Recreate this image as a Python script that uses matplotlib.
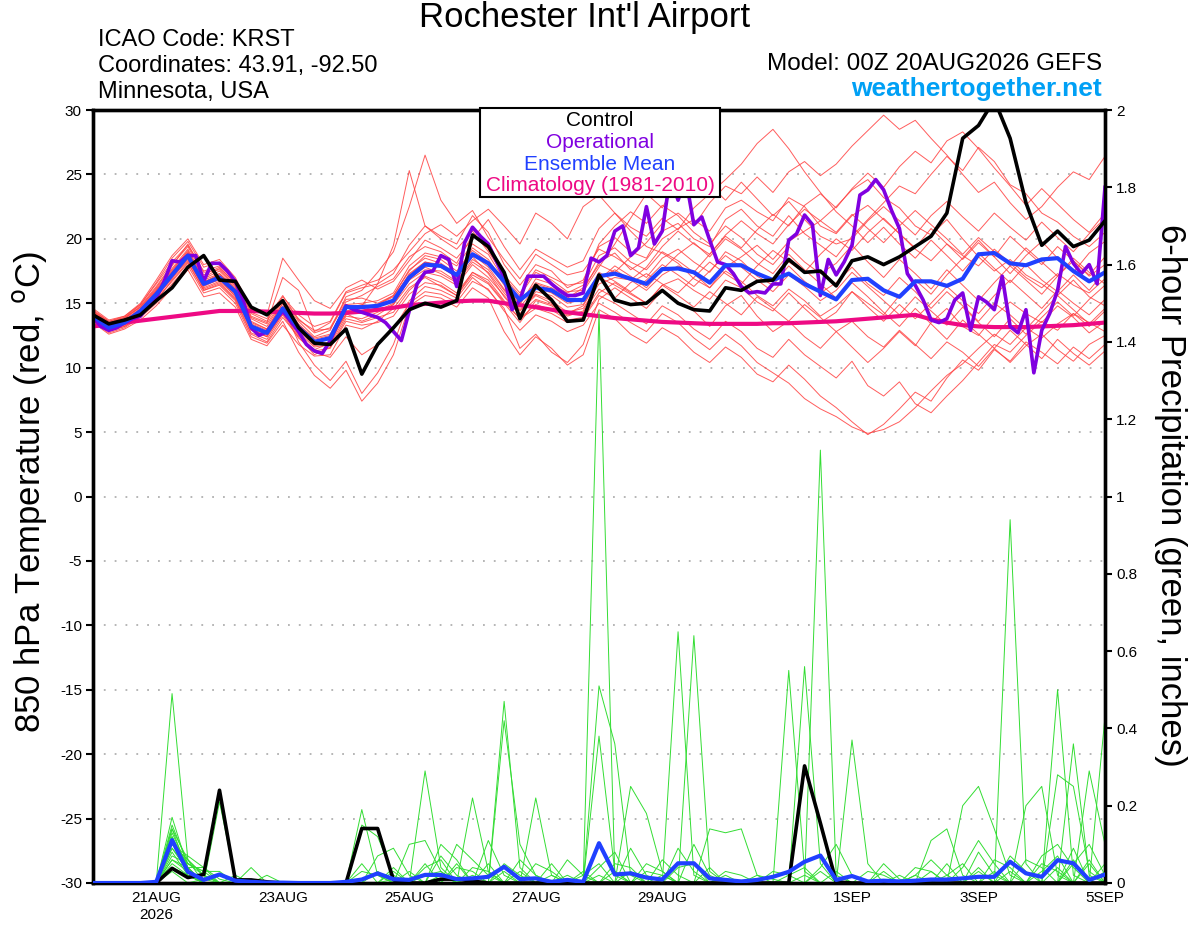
import numpy as np
import pandas as pd
import matplotlib
matplotlib.use('Agg')
import matplotlib.pyplot as plt
from matplotlib.patches import Rectangle

plt.rcParams['font.family'] = ['Liberation Sans', 'DejaVu Sans']
plt.rcParams['axes.unicode_minus'] = False

# 6-hourly GEFS steps (00Z 20AUG2026 to 00Z 05SEP2026), operational is 3-hourly
times6 = pd.date_range('2026-08-20 00:00', periods=65, freq='6h')
times3 = pd.date_range('2026-08-20 00:00', periods=129, freq='3h')

tick_dates = pd.to_datetime(['2026-08-21', '2026-08-23', '2026-08-25', '2026-08-27',
                             '2026-08-29', '2026-09-01', '2026-09-03', '2026-09-05'])
tick_labels = ['21AUG\n2026', '23AUG', '25AUG', '27AUG', '29AUG', '1SEP', '3SEP', '5SEP']

# 850 hPa temperature (C)
control_t = [14.1, 13.4, 13.7, 14.1, 15.2, 16.2, 17.8, 18.7, 16.8, 16.7, 14.7, 14.1, 15.2,
             13.1, 11.9, 11.8, 13.0, 9.5, 11.8, 13.1, 14.5, 15.0, 14.7, 15.2, 20.3, 19.4, 17.4,
             13.8, 16.4, 15.25, 13.6, 13.7, 17.2, 15.25, 14.9, 15.0, 16.0, 15.0, 14.5, 14.4,
             16.2, 16.0, 16.7, 16.8, 18.4, 17.4, 17.5, 16.35, 18.3, 18.6, 18.0, 18.6, 19.4,
             20.2, 22.0, 27.8, 28.8, 30.8, 27.8, 22.8, 19.5, 20.6, 19.4, 19.9, 21.4]
mean_t = [14.0, 13.1, 13.5, 14.4, 15.7, 17.2, 18.7, 16.5, 17.0, 15.9, 13.2, 12.7, 14.6,
          13.1, 12.0, 12.3, 14.7, 14.7, 14.8, 15.2, 17.0, 18.0, 17.9, 17.2, 18.8, 18.1, 16.7,
          15.25, 16.2, 16.0, 15.25, 15.25, 17.1, 17.3, 16.9, 16.5, 17.65, 17.7, 17.4, 16.6,
          17.95, 17.95, 17.3, 16.8, 17.3, 16.5, 15.9, 15.3, 16.8, 16.9, 16.0, 15.5, 16.7,
          16.7, 16.35, 16.9, 18.8, 18.9, 18.1, 17.95, 18.4, 18.5, 17.5, 16.7, 17.4]
clim_t = [13.2, 13.35, 13.5, 13.65, 13.8, 13.95, 14.1, 14.25, 14.4, 14.4, 14.4, 14.35, 14.3,
          14.25, 14.2, 14.2, 14.25, 14.35, 14.5, 14.65, 14.85, 14.95, 15.05, 15.15, 15.2, 15.2,
          15.0, 14.85, 14.7, 14.5, 14.3, 14.15, 14.0, 13.85, 13.75, 13.65, 13.55, 13.5, 13.45,
          13.4, 13.4, 13.4, 13.4, 13.45, 13.45, 13.5, 13.55, 13.6, 13.7, 13.8, 13.9, 14.0, 14.1,
          13.75, 13.5, 13.3, 13.2, 13.15, 13.15, 13.15, 13.2, 13.25, 13.3, 13.4, 13.5]
oper_t = [13.9, 13.2, 12.9, 13.1, 13.5, 13.8, 14.0, 14.8, 15.4, 16.7, 18.3, 18.2, 18.7, 18.7,
          16.7, 18.1, 18.1, 17.5, 16.7, 15.2, 13.1, 12.5, 12.8, 13.6, 14.4, 13.6, 12.8, 11.8,
          11.3, 11.1, 12.1, 13.5, 14.8, 14.5, 14.3, 14.1, 13.9, 13.5, 12.8, 12.1, 14.4, 16.5,
          17.4, 17.5, 18.7, 18.4, 16.3, 19.7, 20.9, 20.2, 19.6, 18.3, 17.0,
          14.5, 15.25, 17.1, 17.1, 17.1, 16.5, 16.0, 15.6, 15.6, 15.8, 18.5, 18.2, 18.7, 20.6,
          21.0, 18.7, 19.3, 22.5, 19.6, 20.6, 24.8, 23.0, 24.6, 21.1, 21.7, 19.9, 18.2, 18.0,
          17.3, 16.3, 15.8, 15.9, 15.8, 16.5, 16.5, 19.9, 20.4, 21.85, 21.1, 15.6, 18.4, 17.2,
          18.2, 19.5, 23.4, 23.8, 24.6, 23.8, 22.2, 20.8, 17.3, 16.4, 15.25, 13.7, 13.5, 13.8,
          15.25, 15.8, 12.9, 15.5, 15.1, 14.5, 17.1, 13.2, 12.7, 14.5, 9.6, 12.9, 14.2, 16.0,
          19.4, 18.1, 17.3, 18.0, 16.5, 24.0]

# ensemble members, 850 hPa temperature
t_mem01 = [14.3, 13.4, 13.8, 14.8, 16.3, 18.0, 19.4, 17.2, 17.8, 16.5, 14.0, 13.5, 17.0,
           16.0, 12.8, 13.5, 15.8, 16.2, 16.5, 17.3, 19.5, 21.0, 20.2, 19.6, 21.8, 20.5, 18.0, 16.4, 18.0, 17.5, 16.2,
           16.8, 19.4, 20.1, 19.0, 18.5, 20.6, 21.2, 20.0, 19.4, 21.5, 22.3, 21.0, 20.2, 21.8, 20.4, 19.5, 18.6,
           20.2, 21.5, 22.8, 24.1, 23.5, 25.0, 26.4, 25.3, 27.1, 26.0, 24.2, 23.5, 22.0, 21.3, 20.2, 19.4, 20.5]
t_mem02 = [13.7, 12.8, 13.2, 14.0, 15.2, 16.8, 18.2, 16.0, 16.4, 15.2, 12.6, 12.0, 13.9,
           12.4, 11.0, 11.6, 13.8, 13.5, 13.9, 14.3, 16.0, 17.1, 16.6, 15.8, 17.4, 16.8, 15.2, 13.8, 14.6, 14.2, 13.5,
           13.8, 15.6, 15.0, 14.2, 13.4, 14.8, 14.1, 13.0, 12.2, 13.6, 12.8, 11.5, 10.8, 12.2, 11.0, 10.1, 9.2,
           10.5, 8.6, 7.8, 8.9, 7.2, 6.5, 7.8, 9.0, 10.4, 11.8, 11.2, 12.5, 13.6, 12.9, 14.2, 13.5, 12.8]
t_mem03 = [14.5, 13.6, 13.9, 14.9, 16.6, 18.5, 19.8, 17.8, 18.2, 16.8, 14.3, 13.8, 15.6,
           13.7, 12.9, 13.0, 15.1, 15.6, 16.3, 16.9, 18.6, 19.4, 19.0, 18.1, 20.3, 19.2, 17.0, 15.6, 17.4, 16.8, 15.9,
           16.0, 18.2, 18.9, 17.6, 18.4, 20.0, 20.8, 21.5, 20.6, 22.4, 23.0, 22.1, 21.4, 23.2, 22.5, 21.0, 20.4,
           21.8, 22.6, 21.5, 20.4, 19.2, 18.3, 19.6, 18.7, 17.9, 19.2, 18.1, 17.0, 16.2, 17.3, 16.4, 15.8, 16.9]
t_mem04 = [13.9, 13.0, 13.4, 14.2, 15.5, 16.9, 18.5, 16.1, 16.6, 15.4, 12.9, 12.4, 14.2,
           12.5, 11.4, 11.9, 14.4, 14.2, 14.4, 15.0, 16.8, 17.6, 17.5, 16.7, 18.4, 17.6, 16.0, 14.5, 15.7, 15.2, 14.3,
           14.6, 16.5, 17.0, 16.8, 16.0, 17.2, 17.9, 17.3, 16.2, 17.8, 18.6, 19.5, 18.4, 19.8, 20.6, 21.4, 22.5,
           23.8, 24.6, 23.2, 22.4, 21.0, 20.3, 21.5, 20.0, 18.6, 17.5, 18.4, 17.2, 16.5, 15.6, 16.8, 15.5, 14.8]
t_mem05 = [14.1, 13.2, 13.6, 14.5, 15.9, 17.4, 18.9, 16.7, 17.1, 16.0, 13.3, 12.8, 14.7,
           12.0, 10.2, 9.0, 10.5, 8.0, 9.6, 11.8, 15.2, 16.3, 16.0, 15.4, 17.0, 16.0, 14.6, 11.5, 12.6, 11.2, 10.4,
           11.8, 15.3, 16.2, 15.4, 14.6, 16.0, 15.1, 14.4, 13.2, 14.8, 15.6, 14.0, 12.8, 13.6, 12.4, 11.5, 12.8,
           11.6, 10.4, 11.5, 12.8, 11.7, 13.5, 14.6, 13.2, 12.5, 14.0, 15.1, 14.2, 13.5, 14.8, 13.9, 12.7, 13.6]
t_mem06 = [14.2, 13.3, 13.7, 14.6, 16.0, 17.6, 19.0, 16.9, 17.5, 16.3, 13.6, 13.0, 15.0,
           13.4, 12.2, 12.5, 14.9, 15.0, 15.2, 15.8, 17.9, 18.9, 18.6, 17.9, 19.6, 18.8, 16.8, 15.2, 16.5, 16.1, 15.4,
           16.2, 18.0, 17.4, 18.6, 19.7, 21.2, 22.0, 21.0, 22.8, 24.1, 23.5, 24.8, 23.6, 25.2, 26.0, 24.9, 25.8,
           27.2, 28.4, 29.6, 28.5, 29.2, 27.8, 26.5, 25.0, 23.6, 24.4, 22.8, 21.5, 22.5, 24.0, 25.2, 24.6, 26.4]
t_mem07 = [13.8, 12.9, 13.3, 14.1, 15.4, 17.0, 18.3, 16.3, 16.9, 15.5, 13.0, 12.5, 14.5,
           13.0, 12.0, 12.4, 14.6, 14.9, 14.7, 15.3, 17.3, 18.2, 17.8, 17.0, 18.6, 17.3, 15.5, 14.1, 15.9, 15.6, 14.7,
           14.9, 17.0, 16.4, 15.7, 15.0, 16.4, 16.9, 16.0, 15.3, 16.8, 16.2, 15.1, 14.4, 15.8, 14.6, 13.5, 14.3,
           15.9, 15.0, 14.1, 15.6, 16.8, 15.7, 17.2, 18.5, 19.9, 18.6, 20.2, 19.1, 18.0, 19.4, 18.3, 17.1, 18.0]
t_mem08 = [14.4, 13.5, 13.9, 14.7, 16.2, 17.9, 19.6, 17.4, 17.6, 16.4, 13.8, 13.2, 15.2,
           13.6, 12.4, 12.9, 15.5, 16.0, 17.4, 19.0, 22.5, 26.5, 23.0, 21.2, 22.2, 20.1, 18.4, 16.9, 18.8, 18.0, 17.2,
           17.5, 19.2, 18.6, 17.8, 17.0, 18.5, 19.2, 18.2, 17.4, 19.0, 18.3, 17.1, 16.4, 17.9, 16.7, 15.8, 16.6,
           17.8, 16.5, 15.6, 17.0, 15.9, 14.6, 15.9, 14.8, 13.6, 15.0, 14.1, 13.0, 14.3, 15.6, 14.5, 13.4, 14.6]
t_mem09 = [14.0, 13.1, 13.5, 14.3, 15.6, 17.3, 18.8, 16.6, 17.3, 16.1, 13.4, 12.9, 14.8,
           13.2, 12.1, 12.3, 14.1, 14.8, 16.5, 19.5, 25.3, 21.0, 20.0, 19.2, 20.6, 19.0, 17.2, 15.8, 17.6, 17.0, 16.4,
           16.6, 19.6, 21.0, 22.1, 21.2, 22.6, 21.8, 20.5, 19.6, 21.0, 20.1, 18.8, 18.0, 19.4, 18.2, 17.3, 18.1,
           19.5, 18.2, 17.0, 18.4, 17.3, 16.1, 17.6, 16.4, 15.2, 16.6, 17.9, 16.8, 15.7, 17.1, 18.3, 17.2, 18.6]
t_mem10 = [13.6, 12.7, 13.1, 13.9, 15.0, 16.5, 17.9, 15.8, 16.2, 15.0, 12.4, 11.9, 13.6,
           11.2, 9.4, 8.4, 9.8, 7.4, 8.8, 11.0, 14.8, 15.6, 15.4, 14.7, 16.2, 15.4, 12.8, 11.0, 12.4, 11.5, 10.2,
           11.0, 14.5, 13.8, 12.6, 11.9, 13.1, 12.4, 11.2, 10.4, 11.6, 10.8, 9.5, 8.9, 10.2, 9.1, 7.8, 6.9,
           5.8, 4.8, 5.6, 6.8, 8.1, 7.4, 9.2, 10.6, 9.8, 11.4, 10.5, 12.0, 11.2, 10.3, 11.6, 10.7, 11.8]
t_mem11 = [14.6, 13.7, 14.0, 15.0, 16.8, 18.7, 20.0, 18.0, 18.4, 17.0, 14.6, 14.1, 18.5,
           16.8, 15.2, 14.6, 16.2, 16.8, 16.1, 16.7, 18.3, 19.9, 19.3, 18.5, 20.0, 21.5, 19.4, 17.6, 19.2, 18.5, 17.8,
           18.3, 20.8, 22.0, 20.9, 20.2, 21.6, 20.7, 22.4, 23.5, 24.6, 25.8, 27.4, 28.5, 27.0, 25.2, 23.6, 22.1,
           21.0, 19.7, 20.9, 19.6, 18.5, 19.9, 18.7, 17.5, 18.9, 17.7, 16.6, 18.0, 16.8, 15.9, 17.2, 16.0, 17.5]
t_mem12 = [13.5, 12.6, 13.0, 13.7, 14.8, 16.2, 17.6, 15.5, 15.8, 14.7, 12.2, 11.7, 13.3,
           11.8, 10.9, 11.0, 13.3, 13.0, 13.6, 14.6, 16.2, 17.0, 16.3, 15.6, 17.2, 16.5, 15.0, 13.5, 15.2, 14.8, 14.0,
           14.4, 16.8, 17.9, 17.1, 16.2, 17.6, 18.8, 19.7, 18.6, 20.0, 19.2, 18.1, 17.3, 18.8, 17.6, 16.5, 15.4,
           16.6, 15.5, 14.3, 13.2, 14.6, 13.4, 12.2, 13.7, 12.6, 11.5, 12.9, 11.8, 10.7, 12.2, 11.1, 10.2, 11.3]
t_mem13 = [14.3, 13.5, 13.8, 14.7, 16.1, 17.7, 19.2, 17.0, 17.7, 16.6, 13.9, 13.4, 15.3,
           13.8, 12.7, 13.1, 15.3, 15.4, 15.0, 15.6, 17.5, 18.7, 18.4, 17.5, 19.1, 18.2, 16.4, 14.9, 16.9, 16.5, 15.8,
           16.4, 18.7, 19.3, 18.2, 17.6, 19.0, 18.3, 17.4, 18.8, 20.2, 19.3, 20.7, 21.9, 21.0, 22.6, 23.5, 22.4,
           23.9, 25.1, 24.0, 25.6, 26.8, 25.9, 27.6, 28.3, 27.0, 25.5, 24.1, 22.6, 23.9, 22.7, 21.5, 20.5, 22.0]
t_mem14 = [13.9, 13.0, 13.3, 14.2, 15.6, 17.1, 18.6, 16.4, 16.8, 15.7, 13.1, 12.6, 14.4,
           12.9, 11.7, 12.0, 14.2, 13.6, 14.1, 14.9, 16.5, 17.4, 17.1, 16.4, 18.0, 17.0, 15.6, 14.2, 15.3, 14.9, 14.1,
           14.3, 16.1, 15.4, 16.6, 17.3, 16.5, 15.8, 17.0, 18.2, 17.3, 16.5, 17.9, 19.1, 18.2, 17.4, 18.8, 20.0,
           19.1, 20.5, 21.6, 20.4, 19.3, 20.8, 19.6, 18.4, 19.7, 18.6, 17.3, 18.7, 19.8, 18.5, 17.4, 18.9, 19.8]
t_mem15 = [14.0, 13.2, 13.6, 14.4, 15.8, 17.3, 18.7, 16.6, 17.0, 15.8, 13.2, 12.7, 14.6,
           12.6, 11.2, 10.8, 12.4, 11.0, 11.8, 13.0, 15.0, 15.9, 15.7, 15.1, 16.7, 16.1, 14.4, 12.9, 14.1, 13.6, 12.8,
           13.3, 15.0, 14.3, 13.5, 12.8, 14.2, 13.5, 12.3, 11.4, 12.6, 11.7, 10.4, 9.6, 8.8, 7.6, 6.8, 6.2,
           5.4, 4.9, 5.2, 5.8, 6.9, 8.2, 9.4, 10.3, 11.5, 12.6, 11.8, 13.1, 12.3, 13.4, 14.2, 13.2, 14.4]
t_mem16 = [14.2, 13.4, 13.7, 14.5, 16.0, 17.5, 19.1, 16.8, 17.3, 16.2, 13.5, 13.0, 15.0,
           13.3, 12.3, 12.6, 14.8, 14.4, 14.9, 15.6, 17.6, 18.5, 18.1, 17.3, 19.3, 18.4, 16.6, 15.0, 16.6, 16.2, 15.5,
           15.9, 17.8, 19.6, 21.6, 23.5, 22.4, 24.6, 25.8, 24.2, 23.0, 24.4, 23.1, 21.8, 22.9, 21.5, 20.2, 19.6,
           20.0, 21.4, 22.5, 21.4, 20.3, 21.8, 22.9, 21.7, 20.6, 22.0, 20.9, 19.9, 21.3, 20.1, 19.0, 20.4, 21.6]
t_mem17 = [13.7, 12.9, 13.2, 14.0, 15.3, 16.7, 18.1, 16.0, 16.5, 15.3, 12.7, 12.2, 14.1,
           12.3, 11.3, 11.5, 13.6, 13.3, 13.5, 14.0, 15.7, 16.6, 16.4, 15.6, 17.4, 16.6, 15.1, 13.8, 14.9, 14.5, 13.7,
           13.9, 15.8, 16.6, 15.8, 15.0, 16.4, 15.6, 14.7, 15.9, 15.0, 14.1, 15.5, 14.6, 13.6, 14.9, 13.9, 12.8,
           13.6, 12.4, 11.6, 12.9, 11.8, 10.7, 12.0, 11.2, 10.1, 11.5, 10.4, 11.7, 12.6, 11.4, 10.5, 11.8, 12.5]
t_mem18 = [14.4, 13.6, 14.0, 14.9, 16.5, 18.2, 19.5, 17.5, 17.9, 16.7, 14.2, 13.6, 15.5,
           14.1, 13.2, 13.6, 15.9, 16.4, 16.8, 17.6, 19.0, 20.4, 21.1, 20.2, 21.4, 22.3, 21.0, 19.6, 22.0, 21.2, 20.0,
           22.5, 23.4, 22.0, 20.6, 19.4, 18.9, 18.1, 16.9, 16.2, 17.5, 16.7, 15.6, 14.8, 16.1, 15.2, 14.0, 14.8,
           15.9, 14.7, 13.6, 14.9, 13.8, 15.0, 16.3, 15.2, 14.2, 15.6, 16.8, 15.7, 14.6, 16.0, 15.0, 14.1, 15.3]
t_mem19 = [13.8, 13.0, 13.4, 14.3, 15.6, 17.1, 18.4, 16.2, 16.7, 15.6, 13.0, 12.4, 14.3,
           12.7, 11.6, 11.8, 14.0, 13.8, 14.3, 14.9, 16.9, 17.8, 17.3, 16.6, 18.2, 17.4, 15.8, 14.4, 15.6, 15.0, 14.2,
           14.8, 16.9, 17.6, 16.8, 17.8, 19.4, 20.6, 19.6, 18.8, 20.3, 21.4, 20.4, 19.6, 21.1, 22.3, 21.4, 20.5,
           21.9, 20.8, 19.7, 21.0, 22.2, 21.1, 20.0, 18.8, 20.1, 19.0, 17.9, 19.3, 18.2, 17.1, 18.5, 17.4, 16.5]
t_mem20 = [14.1, 13.3, 13.5, 14.4, 15.8, 17.4, 18.9, 16.6, 17.2, 16.0, 13.3, 12.8, 14.7,
           13.1, 12.0, 12.2, 14.4, 14.6, 14.9, 15.5, 17.2, 18.2, 18.0, 17.2, 18.8, 17.8, 16.1, 14.7, 16.2, 15.8, 15.0,
           15.3, 17.4, 16.7, 15.9, 16.8, 18.0, 17.2, 16.3, 17.5, 18.7, 17.8, 16.8, 15.9, 17.2, 16.3, 15.2, 16.0,
           17.4, 16.3, 15.2, 14.1, 15.5, 14.4, 13.3, 14.7, 13.5, 12.4, 13.8, 12.6, 13.9, 15.1, 14.0, 15.3, 16.4]

# 6-hour precipitation (inches)
control_p = [0, 0, 0, 0, 0, 0.038, 0.014, 0.022, 0.24, 0.008, 0.008, 0.003, 0, 0, 0,
             0, 0, 0.141, 0.141, 0.008, 0, 0, 0.01, 0.01, 0.005, 0, 0, 0, 0, 0,
             0, 0, 0, 0, 0, 0, 0, 0, 0, 0, 0, 0, 0, 0, 0, 0.303, 0.155, 0.003, 0, 0,
             0, 0, 0, 0, 0, 0, 0, 0, 0, 0, 0, 0, 0, 0, 0]
mean_p = [0, 0, 0, 0, 0.003, 0.111, 0.029, 0.008, 0.022, 0.006, 0.003, 0.001, 0.001, 0, 0,
          0, 0.003, 0.009, 0.025, 0.010, 0.008, 0.021, 0.021, 0.010, 0.012,
          0.016, 0.042, 0.010, 0.012, 0.003, 0.008, 0.003, 0.103, 0.022, 0.025,
          0.014, 0.009, 0.051, 0.051, 0.012, 0.008, 0.004, 0.008, 0.016, 0.029,
          0.055, 0.071, 0.008, 0.018, 0.004, 0.006, 0.004, 0.006, 0.009, 0.009,
          0.012, 0.016, 0.016, 0.055, 0.025, 0.016, 0.059, 0.051, 0.008, 0.022]

# ensemble member precipitation, {6-hour step: inches}, all other steps dry
p_mem01 = {5: 0.49, 6: 0.06, 7: 0.02, 21: 0.05, 32: 1.48, 33: 0.02, 46: 1.12, 47: 0.02, 58: 0.94, 59: 0.05}
p_mem02 = {5: 0.17, 6: 0.04, 8: 0.21, 9: 0.01, 17: 0.19, 18: 0.02, 26: 0.47, 27: 0.04, 37: 0.65, 38: 0.02,
           55: 0.2, 56: 0.25, 57: 0.14, 58: 0.02}
p_mem03 = {5: 0.15, 6: 0.05, 7: 0.03, 21: 0.29, 22: 0.04, 32: 0.51, 33: 0.36, 34: 0.02, 38: 0.64, 39: 0.03,
           61: 0.5, 62: 0.02}
p_mem04 = {5: 0.14, 6: 0.03, 10: 0.04, 17: 0.15, 18: 0.12, 19: 0.02, 24: 0.22, 25: 0.03, 32: 0.38, 33: 0.03,
           44: 0.55, 45: 0.03, 63: 0.29, 64: 0.1}
p_mem05 = {5: 0.13, 6: 0.04, 7: 0.04, 18: 0.07, 19: 0.09, 20: 0.02, 28: 0.22, 29: 0.02, 45: 0.56, 46: 0.05,
           62: 0.36, 63: 0.02}
p_mem06 = {5: 0.12, 6: 0.02, 20: 0.1, 21: 0.11, 22: 0.03, 26: 0.42, 27: 0.1, 28: 0.02, 34: 0.25, 35: 0.18,
           36: 0.03, 48: 0.37, 49: 0.05, 64: 0.43}
p_mem07 = {5: 0.11, 6: 0.05, 7: 0.03, 8: 0.03, 22: 0.1, 23: 0.06, 30: 0.06, 31: 0.02, 39: 0.14, 40: 0.13,
           41: 0.14, 42: 0.02, 56: 0.03, 59: 0.2, 60: 0.25, 61: 0.02}
p_mem08 = {5: 0.10, 6: 0.06, 23: 0.1, 24: 0.06, 25: 0.02, 31: 0.02, 32: 0.05, 38: 0.1, 39: 0.02, 53: 0.11,
           54: 0.14, 55: 0.02, 61: 0.28, 62: 0.25, 63: 0.03}
p_mem09 = {5: 0.09, 6: 0.03, 9: 0.02, 17: 0.05, 19: 0.03, 25: 0.11, 26: 0.02, 34: 0.09, 35: 0.02, 43: 0.03,
           44: 0.02, 50: 0.05, 51: 0.01, 62: 0.05, 63: 0.1, 64: 0.02}
p_mem10 = {5: 0.08, 6: 0.02, 17: 0.03, 18: 0.02, 21: 0.04, 22: 0.06, 27: 0.03, 33: 0.05, 34: 0.04, 36: 0.06,
           37: 0.02, 46: 0.04, 47: 0.1, 48: 0.02, 52: 0.04, 53: 0.03, 60: 0.03, 61: 0.07}
p_mem11 = {5: 0.07, 6: 0.05, 7: 0.02, 23: 0.04, 24: 0.03, 29: 0.02, 37: 0.04, 38: 0.05, 44: 0.02, 45: 0.04,
           54: 0.02, 55: 0.05, 57: 0.06, 58: 0.04}
p_mem12 = {5: 0.06, 6: 0.03, 11: 0.02, 22: 0.02, 26: 0.05, 27: 0.02, 35: 0.03, 36: 0.02, 49: 0.03, 50: 0.02,
           56: 0.08, 57: 0.02, 63: 0.06}
p_mem13 = {5: 0.05, 6: 0.02, 19: 0.01, 24: 0.04, 25: 0.03, 32: 0.02, 40: 0.03, 41: 0.02, 52: 0.02, 53: 0.06,
           54: 0.02, 60: 0.07, 61: 0.1, 62: 0.04}
p_mem14 = {5: 0.04, 6: 0.02, 21: 0.02, 22: 0.03, 28: 0.05, 29: 0.03, 36: 0.02, 47: 0.03, 55: 0.04, 56: 0.11,
           57: 0.05, 64: 0.05}
p_mem15 = {5: 0.03, 7: 0.01, 20: 0.03, 27: 0.06, 28: 0.02, 33: 0.03, 42: 0.02, 43: 0.01, 51: 0.02, 59: 0.06,
           60: 0.04}
p_mem16 = {5: 0.12, 6: 0.04, 18: 0.03, 23: 0.05, 31: 0.03, 37: 0.09, 38: 0.03, 45: 0.02, 54: 0.05, 58: 0.07,
           59: 0.03, 62: 0.09}
p_mem17 = {5: 0.10, 6: 0.07, 7: 0.04, 8: 0.01, 24: 0.02, 30: 0.02, 35: 0.05, 36: 0.03, 48: 0.02, 57: 0.03,
           61: 0.04, 63: 0.05}
p_mem18 = {5: 0.06, 6: 0.04, 22: 0.07, 23: 0.02, 29: 0.05, 40: 0.02, 50: 0.03, 56: 0.04, 64: 0.03}
p_mem19 = {5: 0.14, 6: 0.06, 7: 0.02, 26: 0.03, 32: 0.04, 33: 0.08, 46: 0.03, 53: 0.03, 60: 0.05, 61: 0.03}
p_mem20 = {5: 0.09, 6: 0.04, 19: 0.04, 25: 0.05, 34: 0.03, 39: 0.04, 52: 0.02, 58: 0.03, 62: 0.06}

temp_members = [t_mem01, t_mem02, t_mem03, t_mem04, t_mem05, t_mem06, t_mem07, t_mem08, t_mem09, t_mem10,
                t_mem11, t_mem12, t_mem13, t_mem14, t_mem15, t_mem16, t_mem17, t_mem18, t_mem19, t_mem20]
precip_members = [p_mem01, p_mem02, p_mem03, p_mem04, p_mem05, p_mem06, p_mem07, p_mem08, p_mem09, p_mem10,
                  p_mem11, p_mem12, p_mem13, p_mem14, p_mem15, p_mem16, p_mem17, p_mem18, p_mem19, p_mem20]

# colours
RED = '#ff4040'
GREEN = '#33dd33'
PURPLE = '#8000e0'
BLUE = '#2040ff'
MAGENTA = '#ee0a84'

W, H = 1200, 927
fig = plt.figure(figsize=(W / 100, H / 100), dpi=100)
ax = fig.add_axes([93 / W, 1 - 883 / H, (1105 - 93) / W, (883 - 110) / H])

# temperature
for mem in temp_members:
    ax.plot(times6, mem, color=RED, lw=0.7, alpha=0.85, zorder=2)
ax.plot(times6, clim_t, color=MAGENTA, lw=3, zorder=3)
ax.plot(times3, oper_t, color=PURPLE, lw=2.6, zorder=4)
ax.plot(times6, mean_t, color=BLUE, lw=3, zorder=5)
ax.plot(times6, control_t, color='black', lw=2.6, zorder=6)

ax.set_ylim(-30, 30)
ax.set_yticks(np.arange(-30, 31, 5))
ax.set_xlim(times6[0], times6[-1])
ax.set_xticks(tick_dates)
ax.set_xticklabels(tick_labels)
ax.yaxis.grid(True, linestyle=(0, (1, 5)), color='#b0b0b0', lw=1.3)
ax.set_axisbelow(True)
ax.tick_params(axis='y', direction='out', length=5, width=1.5, labelsize=11, pad=3)
ax.tick_params(axis='x', length=0, labelsize=11, pad=6)
for s in ax.spines.values():
    s.set_linewidth(2.4)

# precipitation on the right axis
ax2 = ax.twinx()
for mem in precip_members:
    vals = np.zeros(len(times6))
    for step, v in mem.items():
        vals[step] = v
    ax2.plot(times6, vals, color=GREEN, lw=0.7, zorder=2)
ax2.plot(times6, control_p, color='black', lw=2.6, zorder=4)
ax2.plot(times6, mean_p, color=BLUE, lw=3, zorder=5)
ax2.set_ylim(0, 2)
ax2.set_yticks(np.arange(0, 2.01, 0.2))
ax2.set_yticklabels(['%g' % round(v, 1) for v in np.arange(0, 2.01, 0.2)])
ax2.tick_params(axis='y', direction='out', length=5, width=1.5, labelsize=11, pad=3)
for s in ax2.spines.values():
    s.set_linewidth(2.4)

# axis titles
fig.text(30 / W, 1 - 492 / H, '850 hPa Temperature (red, $^{\\mathrm{o}}$C)', rotation=90,
         ha='center', va='center', fontsize=25)
fig.text(1170 / W, 1 - 495 / H, '6-hour Precipitation (green, inches)', rotation=270,
         ha='center', va='center', fontsize=25)

# header
fig.text(585 / W, 1 - 18 / H, "Rochester Int'l Airport", ha='center', va='center', fontsize=25)
fig.text(98 / W, 1 - 40 / H, 'ICAO Code: KRST', ha='left', va='center', fontsize=17)
fig.text(98 / W, 1 - 66 / H, 'Coordinates: 43.91, -92.50', ha='left', va='center', fontsize=17)
fig.text(98 / W, 1 - 92 / H, 'Minnesota, USA', ha='left', va='center', fontsize=17)
fig.text(1102 / W, 1 - 64 / H, 'Model: 00Z 20AUG2026 GEFS', ha='right', va='center', fontsize=17.5)
fig.text(1102 / W, 1 - 89 / H, 'weathertogether.net', ha='right', va='center', fontsize=19,
         fontweight='bold', color='#00a0f5')

# legend box
fig.patches.append(Rectangle((480 / W, 1 - 197 / H), 240 / W, 89 / H, transform=fig.transFigure,
                             facecolor='white', edgecolor='black', lw=1.5, zorder=10))
legend_items = [('Control', 'black'), ('Operational', PURPLE),
                ('Ensemble Mean', BLUE), ('Climatology (1981-2010)', MAGENTA)]
for k, (txt, col) in enumerate(legend_items):
    fig.text(600 / W, 1 - (121 + 21.5 * k) / H, txt, ha='center', va='center',
             fontsize=15, color=col, zorder=11)

fig.savefig('out.png', dpi=100)
